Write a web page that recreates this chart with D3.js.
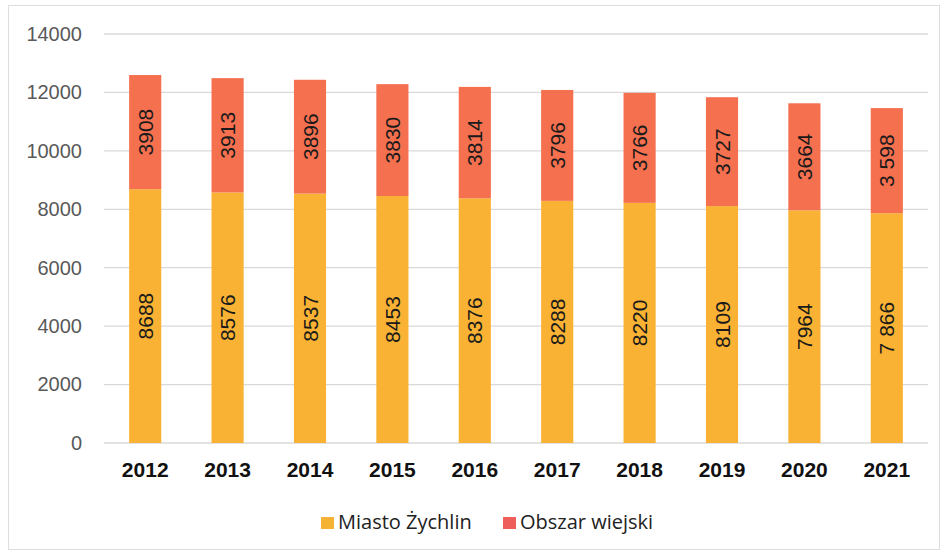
<!DOCTYPE html>
<html>
<head>
<meta charset="utf-8">
<script src="https://cdn.jsdelivr.net/npm/d3@7"></script>
<style>
  body { margin: 0; background: #fff; }
</style>
</head>
<body>
<div id="chart"></div>
<script>
// data
const years = ['2012', '2013', '2014', '2015', '2016', '2017', '2018', '2019', '2020', '2021'];
const miasto = [8688, 8576, 8537, 8453, 8376, 8288, 8220, 8109, 7964, 7866];
const obszar = [3908, 3913, 3896, 3830, 3814, 3796, 3766, 3727, 3664, 3598];
const miastoLabels = ['8688', '8576', '8537', '8453', '8376', '8288', '8220', '8109', '7964', '7 866'];
const obszarLabels = ['3908', '3913', '3896', '3830', '3814', '3796', '3766', '3727', '3664', '3 598'];
const seriesNames = ['Miasto Żychlin', 'Obszar wiejski'];
const yTicks = [0, 2000, 4000, 6000, 8000, 10000, 12000, 14000];

const colors = ['#F9B233', '#F4704F'];
const legendColors = ['#F5B335', '#EE5F5B'];
const sans = '"Liberation Sans", Arial, sans-serif';

const width = 944;
const height = 553;
const svg = d3.select('#chart')
    .append('svg')
    .attr('width', width)
    .attr('height', height);

// chart frame
svg.append('rect')
    .attr('x', 8.5).attr('y', 5.5)
    .attr('width', 931).attr('height', 544)
    .attr('fill', '#fff')
    .attr('stroke', '#dedede');

const x = d3.scaleBand()
    .domain(years)
    .range([104, 928])
    .paddingInner(0.61)
    .paddingOuter(0.305);

const y = d3.scaleLinear()
    .domain([0, 14000])
    .range([443, 34]);

// gridlines
svg.append('g')
    .selectAll('line')
    .data(yTicks)
    .join('line')
    .attr('x1', 104).attr('x2', 928)
    .attr('y1', d => y(d)).attr('y2', d => y(d))
    .attr('stroke', '#d9d9d9')
    .attr('stroke-width', 1.3);

// y axis labels
const yAxis = svg.append('g')
    .attr('transform', 'translate(82,0)')
    .call(d3.axisLeft(y).tickValues(yTicks).tickSize(0).tickPadding(0).tickFormat(d3.format('d')));
yAxis.select('.domain').remove();
yAxis.selectAll('text')
    .style('font-size', '20px')
    .style('font-family', sans)
    .attr('fill', '#595959');

// x axis labels
const xAxis = svg.append('g')
    .attr('transform', 'translate(0,443)')
    .call(d3.axisBottom(x).tickSize(0).tickPadding(19));
xAxis.select('.domain').remove();
xAxis.selectAll('text')
    .style('font-size', '21px')
    .style('font-weight', 'bold')
    .style('font-family', sans)
    .attr('fill', '#111');

// stacked bars
const rows = years.map((yr, i) => ({ year: yr, m: miasto[i], o: obszar[i], ml: miastoLabels[i], ol: obszarLabels[i] }));

const bars = svg.append('g');
bars.selectAll('rect.m')
    .data(rows)
    .join('rect')
    .attr('class', 'm')
    .attr('x', d => x(d.year))
    .attr('width', x.bandwidth())
    .attr('y', d => y(d.m))
    .attr('height', d => y(0) - y(d.m))
    .attr('fill', colors[0]);

bars.selectAll('rect.o')
    .data(rows)
    .join('rect')
    .attr('class', 'o')
    .attr('x', d => x(d.year))
    .attr('width', x.bandwidth())
    .attr('y', d => y(d.m + d.o))
    .attr('height', d => y(d.m) - y(d.m + d.o))
    .attr('fill', colors[1]);

// value labels (rotated)
const labelSize = 21;
function addLabels(mid, text) {
    svg.append('g').selectAll('text')
        .data(rows)
        .join('text')
        .attr('transform', d => 'translate(' + (x(d.year) + x.bandwidth() / 2 + labelSize * 0.36) + ',' + y(mid(d)) + ') rotate(-90)')
        .attr('text-anchor', 'middle')
        .style('font-size', labelSize + 'px')
        .style('font-family', sans)
        .attr('fill', '#1a1a1a')
        .text(text);
}
addLabels(d => d.m / 2, d => d.ml);
addLabels(d => d.m + d.o / 2, d => d.ol);

// legend
const legendX = [321, 503];
const legend = svg.append('g');
seriesNames.forEach((name, i) => {
    legend.append('rect')
        .attr('x', legendX[i]).attr('y', 517)
        .attr('width', 13).attr('height', 12)
        .attr('fill', legendColors[i]);
    legend.append('text')
        .attr('x', legendX[i] + 17).attr('y', 529)
        .style('font-size', '20px')
        .style('font-family', '"Open Sans", "Noto Sans", sans-serif')
        .attr('fill', '#222')
        .text(name);
});
</script>
</body>
</html>
